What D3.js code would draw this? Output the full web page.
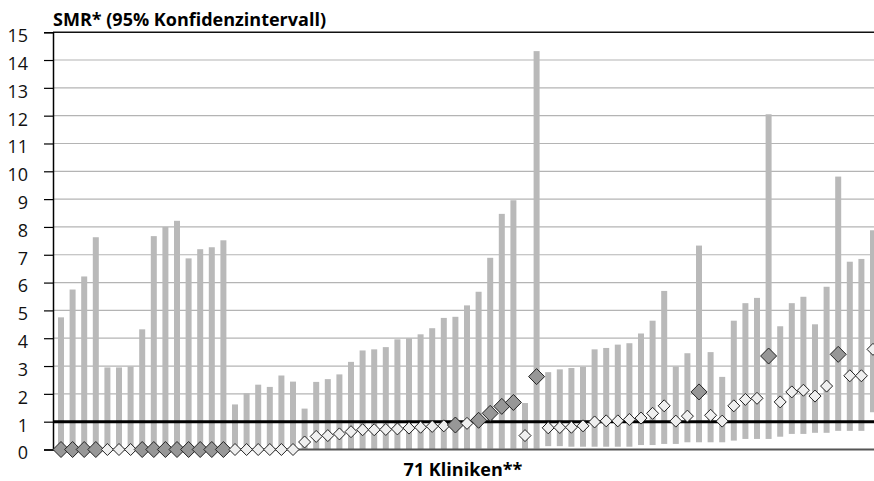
<!DOCTYPE html>
<html>
<head>
<meta charset="utf-8">
<script src="https://cdn.jsdelivr.net/npm/d3@7"></script>
<style>
  body { margin: 0; background: #fff; }
  svg { display: block; font-family: "Open Sans", sans-serif; }
</style>
</head>
<body>
<div id="chart"></div>
<script>
// 71 Kliniken, SMR mit 95%-Konfidenzintervall
const clinics = d3.range(1, 72);

const upper = [4.75, 5.75, 6.22, 7.63, 2.95, 2.95, 2.98, 4.32, 7.67, 8.0,
  8.22, 6.87, 7.2, 7.27, 7.52, 1.62, 2.02, 2.33, 2.25, 2.66,
  2.44, 1.47, 2.43, 2.53, 2.7, 3.15, 3.56, 3.6, 3.68, 3.96,
  4.0, 4.14, 4.36, 4.73, 4.77, 5.18, 5.67, 6.89, 8.47, 8.96,
  1.67, 14.32, 2.78, 2.88, 2.93, 2.97, 3.6, 3.65, 3.77, 3.82,
  4.17, 4.63, 5.7, 2.98, 3.46, 7.33, 3.5, 2.61, 4.63, 5.26,
  5.45, 12.05, 4.43, 5.26, 5.49, 4.5, 5.85, 9.81, 6.75, 6.85, 7.88];

const lower = [0, 0, 0, 0, 0, 0, 0, 0, 0, 0,
  0, 0, 0, 0, 0, 0, 0, 0, 0, 0,
  0, 0, 0, 0, 0, 0, 0, 0, 0, 0,
  0, 0, 0, 0, 0, 0, 0.03, 0.03, 0.03, 0.03,
  0.03, 0.03, 0.12, 0.12, 0.1, 0.1, 0.1, 0.1, 0.1, 0.1,
  0.16, 0.16, 0.2, 0.2, 0.26, 0.26, 0.26, 0.26, 0.32, 0.38,
  0.38, 0.38, 0.46, 0.56, 0.56, 0.6, 0.6, 0.67, 0.67, 0.67, 1.34];

const smr = [0, 0, 0, 0, 0, 0, 0, 0, 0, 0,
  0, 0, 0, 0, 0, 0, 0, 0, 0, 0,
  0, 0.27, 0.47, 0.5, 0.56, 0.64, 0.71, 0.71, 0.72, 0.74,
  0.77, 0.8, 0.83, 0.85, 0.88, 0.94, 1.05, 1.3, 1.55, 1.69,
  0.5, 2.62, 0.78, 0.79, 0.8, 0.85, 0.99, 1.03, 1.03, 1.08,
  1.13, 1.3, 1.57, 1.02, 1.2, 2.07, 1.23, 1.02, 1.57, 1.8,
  1.84, 3.36, 1.71, 2.07, 2.13, 1.92, 2.28, 3.42, 2.65, 2.65, 3.6];

// 1 = dunkel markierte Klinik
const marked = [1, 1, 1, 1, 0, 0, 0, 1, 1, 1,
  1, 1, 1, 1, 1, 0, 0, 0, 0, 0,
  0, 0, 0, 0, 0, 0, 0, 0, 0, 0,
  0, 0, 0, 0, 1, 0, 1, 1, 1, 1,
  0, 1, 0, 0, 0, 0, 0, 0, 0, 0,
  0, 0, 0, 0, 0, 1, 0, 0, 0, 0,
  0, 1, 0, 0, 0, 0, 0, 1, 0, 0, 0];

const yTicks = d3.range(0, 16);
const refValue = 1;
const titleText = 'SMR* (95% Konfidenzintervall)';
const xLabel = '71 Kliniken**';

const width = 874;
const height = 481;
const left = 53;

const data = clinics.map((c, i) => ({
  clinic: c, lo: lower[i], hi: upper[i], smr: smr[i], marked: marked[i] === 1
}));

const x = d3.scalePoint()
  .domain(clinics)
  .range([61, 873]);

const y = d3.scaleLinear()
  .domain([0, 15])
  .range([449.5, 32.2]);

const svg = d3.select('#chart')
  .append('svg')
  .attr('width', width)
  .attr('height', height);

// gridlines
svg.append('g')
  .selectAll('line')
  .data(yTicks.filter(t => t > 0 && t < 15))
  .enter()
  .append('line')
  .attr('x1', left)
  .attr('x2', width)
  .attr('y1', d => y(d))
  .attr('y2', d => y(d))
  .attr('stroke', '#b4b4b4')
  .attr('stroke-width', 1.2);

// top border
svg.append('line')
  .attr('x1', left).attr('x2', width)
  .attr('y1', y(15)).attr('y2', y(15))
  .attr('stroke', '#111')
  .attr('stroke-width', 1.5);

// confidence interval bars
svg.append('g')
  .selectAll('rect')
  .data(data)
  .enter()
  .append('rect')
  .attr('x', d => x(d.clinic) - 3)
  .attr('width', 6)
  .attr('y', d => y(d.hi))
  .attr('height', d => y(d.lo) - y(d.hi))
  .attr('fill', '#b9b9b9');

// bottom axis line
svg.append('line')
  .attr('x1', left).attr('x2', width)
  .attr('y1', y(0)).attr('y2', y(0))
  .attr('stroke', '#555')
  .attr('stroke-width', 1.8);

// reference line SMR = 1
svg.append('line')
  .attr('x1', left).attr('x2', width)
  .attr('y1', y(refValue)).attr('y2', y(refValue))
  .attr('stroke', '#000')
  .attr('stroke-width', 3);

// y axis
const yAxis = d3.axisLeft(y)
  .tickValues(yTicks)
  .tickSize(9)
  .tickPadding(16)
  .tickFormat(d3.format('d'));

const axisG = svg.append('g')
  .attr('transform', `translate(${left},0)`)
  .call(yAxis);
axisG.select('.domain').attr('stroke', '#000').attr('stroke-width', 1.5);
axisG.selectAll('.tick line').attr('stroke', '#000').attr('stroke-width', 1.2);
axisG.selectAll('.tick text')
  .attr('font-family', '"Open Sans", sans-serif')
  .attr('font-size', 18)
  .attr('fill', '#111')
  .attr('dy', '0.52em');

// SMR diamonds
const diamond = r => `M0,${-r}L${r},0L0,${r}L${-r},0Z`;
svg.append('g')
  .selectAll('path')
  .data(data)
  .enter()
  .append('path')
  .attr('transform', d => `translate(${x(d.clinic)},${y(d.smr)})`)
  .attr('d', d => diamond(d.marked ? 8 : 6))
  .attr('fill', d => d.marked ? '#979797' : '#efefef')
  .attr('stroke', '#222')
  .attr('stroke-width', 1);

// title
svg.append('text')
  .attr('x', left)
  .attr('y', 26)
  .attr('font-size', 18)
  .attr('font-weight', 700)
  .attr('fill', '#000')
  .text(titleText);

// x label
svg.append('text')
  .attr('x', 463)
  .attr('y', 476)
  .attr('text-anchor', 'middle')
  .attr('font-size', 18)
  .attr('font-weight', 700)
  .attr('fill', '#000')
  .text(xLabel);
</script>
</body>
</html>
